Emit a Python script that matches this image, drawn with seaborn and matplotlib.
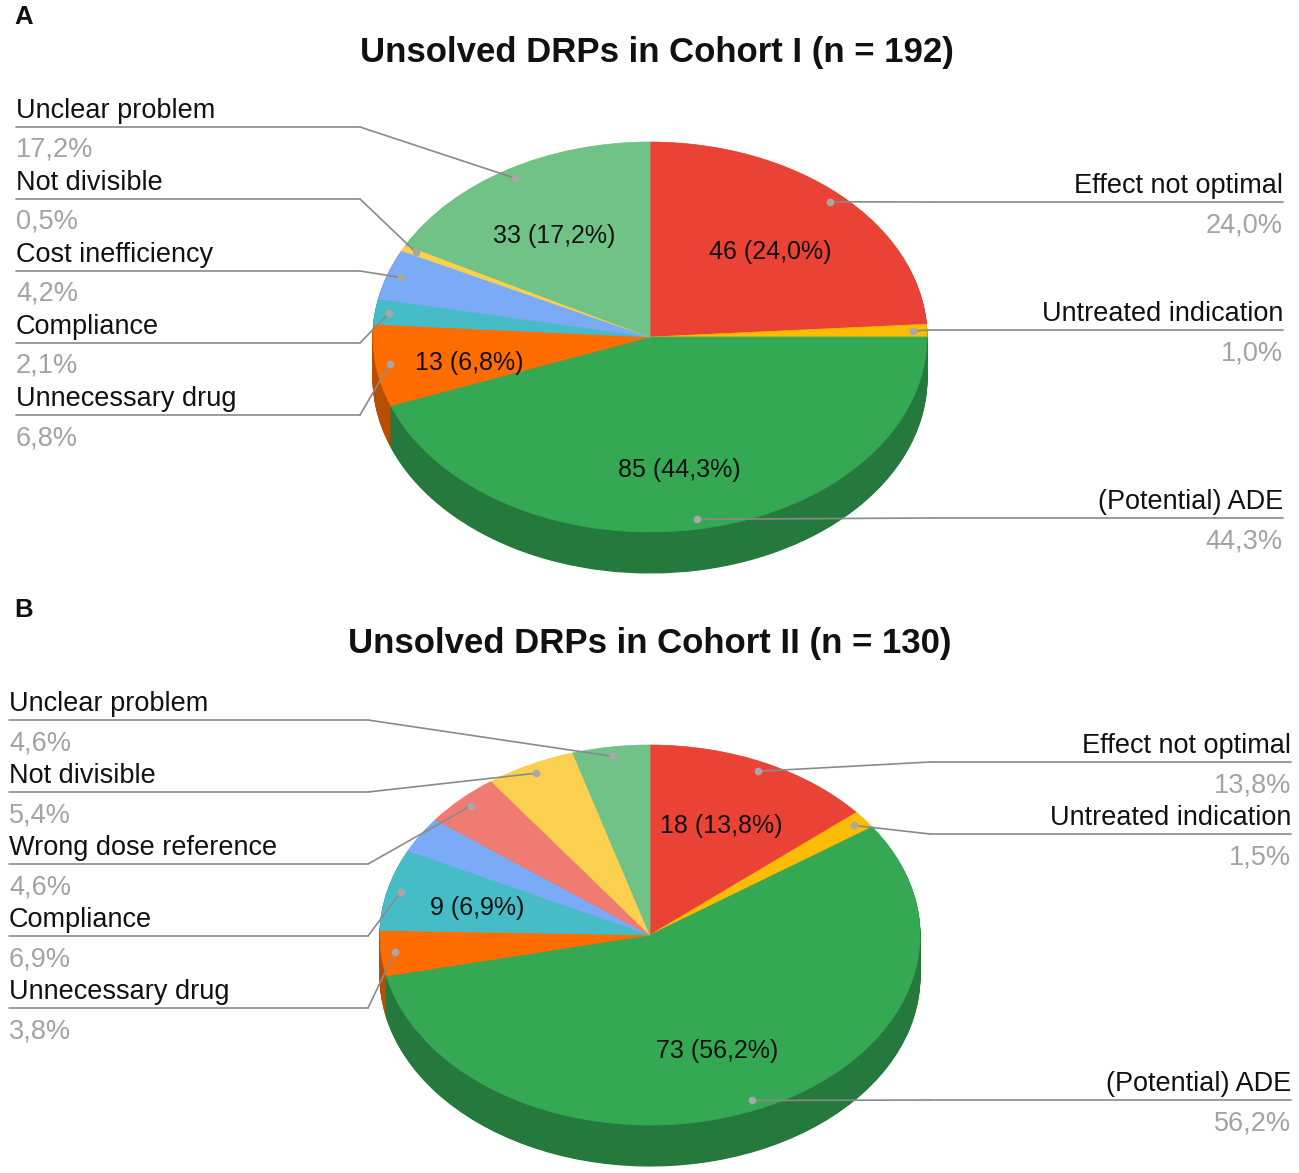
import numpy as np
import matplotlib
matplotlib.use("Agg")
import matplotlib.pyplot as plt
import matplotlib.colors as mcolors
from matplotlib.lines import Line2D
import seaborn as sns

sns.set_style("white")
plt.rcParams['font.family'] = ['Liberation Sans', 'DejaVu Sans']

# ---------------- data ----------------
title_1 = "Unsolved DRPs in Cohort I (n = 192)"
categories_1 = ["Effect not optimal", "Untreated indication", "(Potential) ADE",
                "Unnecessary drug", "Compliance", "Cost inefficiency",
                "Not divisible", "Unclear problem"]
counts_1 = [46, 2, 85, 13, 4, 8, 1, 33]
colors_1 = ["#EA4335", "#FBBC04", "#34A853", "#FF6D01", "#46BDC6",
            "#7BAAF7", "#FCD04F", "#71C287"]

title_2 = "Unsolved DRPs in Cohort II (n = 130)"
categories_2 = ["Effect not optimal", "Untreated indication", "(Potential) ADE",
                "Unnecessary drug", "Compliance", "Cost inefficiency",
                "Wrong dose reference", "Not divisible", "Unclear problem"]
counts_2 = [18, 2, 73, 5, 9, 4, 6, 7, 6]
colors_2 = ["#EA4335", "#FBBC04", "#34A853", "#FF6D01", "#46BDC6",
            "#7BAAF7", "#F07B72", "#FCD04F", "#71C287"]

# labelled categories (left column top->bottom, right column top->bottom)
left_labels_1 = ["Unclear problem", "Not divisible", "Cost inefficiency",
                 "Compliance", "Unnecessary drug"]
right_labels_1 = ["Effect not optimal", "Untreated indication", "(Potential) ADE"]
left_labels_2 = ["Unclear problem", "Not divisible", "Wrong dose reference",
                 "Compliance", "Unnecessary drug"]
right_labels_2 = ["Effect not optimal", "Untreated indication", "(Potential) ADE"]

# ---------------- layout (pixels) ----------------
W, H = 1299, 1173
fig = plt.figure(figsize=(W / 100, H / 100), dpi=100)
fig.patch.set_facecolor("white")

LINE_C = "#8a8a8a"
DOT_C = "#a8a8a8"
PCT_C = "#a3a3a3"
LABEL_FS = 19.5


def fx(x):
    return x / W


def fy(y):
    return 1 - y / H


def fmt_pct(p):
    return f"{p:.1f}".replace(".", ",") + "%"


def draw_panel(categories, counts, colors, title, letter, lay):
    cx, cy, rx, ry, depth = lay["center"] + (lay["rx"], lay["ry"], lay["depth"])
    x0, x1 = -1.2, 1.2
    y0, y1 = -1.25, 1.2
    left = cx + x0 * rx
    ax = fig.add_axes([fx(left), fy(cy - y0 * ry), (x1 - x0) * rx / W,
                       (y1 - y0) * ry / H])
    total = sum(counts)
    d_units = depth / ry

    # extruded side (stacked darker layers)
    dark = [tuple(np.array(mcolors.to_rgb(c)) * 0.72) for c in colors]
    n_layers = 45
    for k in range(n_layers, 0, -1):
        ws, _ = ax.pie(counts, colors=dark, startangle=90, counterclock=False,
                       center=(0, -d_units * k / n_layers), frame=False,
                       wedgeprops=dict(linewidth=0))
        for w in ws:
            w.set_edgecolor(w.get_facecolor())
            w.set_linewidth(0.8)

    def autopct(p):
        if p > 6:
            n = int(round(p * total / 100))
            return f"{n} ({fmt_pct(p)})"
        return ""

    wedges, _, autotexts = ax.pie(
        counts, colors=colors, startangle=90, counterclock=False,
        autopct=autopct, pctdistance=0.65, frame=False,
        textprops=dict(fontsize=18, color="#111111"),
        wedgeprops=dict(linewidth=0))
    for w in wedges:
        w.set_edgecolor(w.get_facecolor())
        w.set_linewidth(0.5)
    for t in autotexts:
        px, py = t.get_position()
        t.set_position((px - 0.01, py - lay["label_shift"]))

    ax.set_aspect("auto")
    ax.set_xlim(x0, x1)
    ax.set_ylim(y0, y1)
    ax.axis("off")

    def dot_of(name):
        i = categories.index(name)
        w = wedges[i]
        th = np.deg2rad((w.theta1 + w.theta2) / 2)
        return 0.95 * np.cos(th), 0.95 * np.sin(th), counts[i] / total * 100

    def leader(name, line_y, side):
        dx, dy, pct = dot_of(name)
        ax.plot([dx], [dy], "o", color=DOT_C, markersize=5.5, zorder=10,
                markeredgewidth=0)
        if side == "left":
            ex, tx, ha = lay["left_elbow"], lay["left_x"], "left"
        else:
            ex, tx, ha = lay["right_elbow"], lay["right_x"], "right"
        ax.annotate("", xy=(dx, dy), xycoords="data",
                    xytext=(fx(ex), fy(line_y)), textcoords="figure fraction",
                    arrowprops=dict(arrowstyle="-", color=LINE_C, lw=1.2,
                                    shrinkA=0, shrinkB=0), zorder=9)
        fig.add_artist(Line2D([fx(tx), fx(ex)], [fy(line_y), fy(line_y)],
                              transform=fig.transFigure, color=LINE_C, lw=1.2))
        fig.text(fx(tx), fy(line_y - 9), name, ha=ha, va="baseline",
                 fontsize=LABEL_FS, color="#111111")
        fig.text(fx(tx), fy(line_y + 30), fmt_pct(pct), ha=ha, va="baseline",
                 fontsize=LABEL_FS, color=PCT_C)

    for name, ly in zip(lay["left_names"], lay["left_y"]):
        leader(name, ly, "left")
    for name, ly in zip(lay["right_names"], lay["right_y"]):
        leader(name, ly, "right")

    fig.text(fx(lay["title_x"]), fy(lay["title_y"]), title, ha="center",
             va="baseline", fontsize=25, fontweight="bold", color="#111111")
    fig.text(fx(lay["letter_x"]), fy(lay["letter_y"]), letter, ha="left",
             va="baseline", fontsize=18.5, fontweight="bold", color="#111111")


lay_1 = dict(center=(650, 337), rx=277, ry=195, depth=41,
             left_x=16, left_elbow=360, right_x=1283, right_elbow=930,
             left_names=left_labels_1, left_y=[127, 199, 271, 343, 415],
             right_names=right_labels_1, right_y=[202, 330, 518],
             title_x=657, title_y=62, letter_x=14, letter_y=24,
             label_shift=0.04)
lay_2 = dict(center=(650, 935), rx=270, ry=190, depth=41,
             left_x=9, left_elbow=368, right_x=1291, right_elbow=930,
             left_names=left_labels_2, left_y=[720, 792, 864, 936, 1008],
             right_names=right_labels_2, right_y=[762, 834, 1100],
             title_x=650, title_y=653, letter_x=14, letter_y=617,
             label_shift=0.015)

draw_panel(categories_1, counts_1, colors_1, title_1, "A", lay_1)
draw_panel(categories_2, counts_2, colors_2, title_2, "B", lay_2)

fig.savefig("out.png", dpi=100, facecolor="white")
